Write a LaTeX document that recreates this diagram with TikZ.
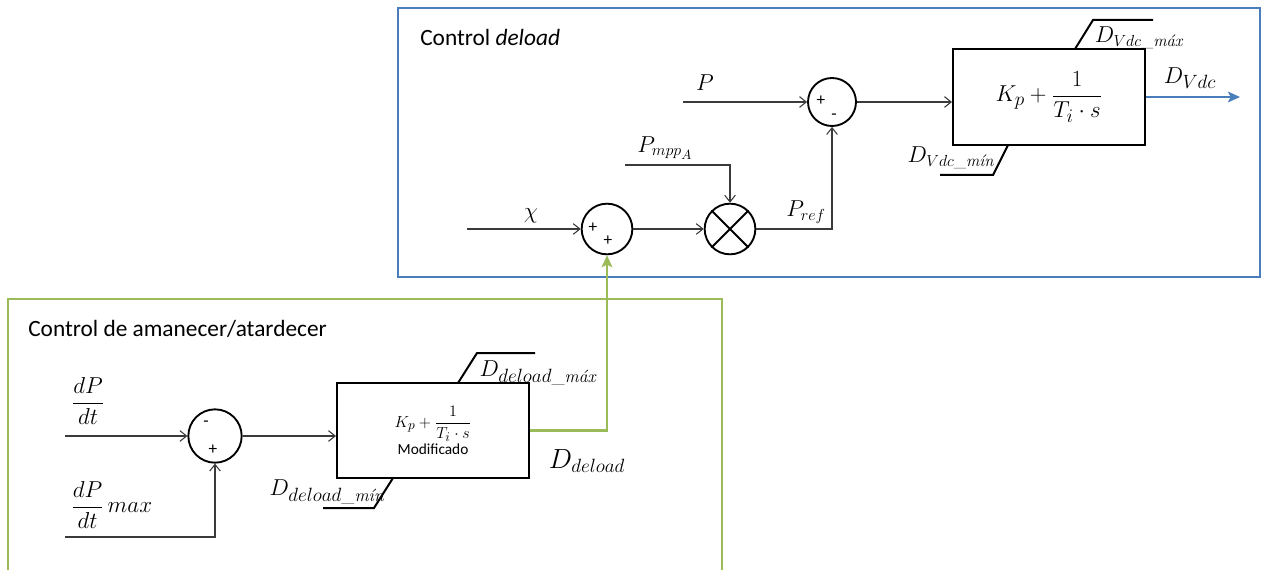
\documentclass[tikz,border=0pt]{standalone}
\usepackage{amsmath}
\usepackage[no-math]{fontspec}
\newfontfamily\calib{Carlito}
\usetikzlibrary{arrows.meta}
\DeclareMathSizes{13}{13}{10}{8}
\DeclareMathSizes{16}{16}{12.5}{10}
\DeclareMathSizes{17}{17}{13.3}{10.6}
\DeclareMathSizes{18}{18}{14}{11.2}
\DeclareMathSizes{19}{19}{14.8}{11.8}
\DeclareMathSizes{20}{20}{15.6}{12.5}
\definecolor{boxblue}{HTML}{4A7EBB}
\definecolor{boxgreen}{HTML}{9BBB59}
\definecolor{wire}{HTML}{3A3A3A}
\begin{document}
\begin{tikzpicture}[x=0.75pt,y=-0.75pt,
  conn/.style={draw=wire,line width=0.8pt,-{Straight Barb[length=5pt,width=8pt]}},
  sumnode/.style={circle,draw=black,line width=1.4pt,minimum size=38pt,inner sep=0pt},
  block/.style={rectangle,draw=black,line width=1.5pt,inner sep=0pt,minimum width=144pt,minimum height=71.5pt},
  sat/.style={draw=black,line width=1.5pt},
  lbl/.style={inner sep=0pt,font=\fontsize{16}{19}\selectfont},
  sign/.style={inner sep=0pt,font=\calib\fontsize{13}{14}\selectfont},
  title/.style={inner sep=0pt,anchor=west,font=\calib\fontsize{17.5}{20}\selectfont},
  bluearrow/.style={draw=boxblue,line width=1.8pt,-{Stealth[length=9pt,width=8pt,inset=2pt]}},
  greenarrow/.style={draw=boxgreen,line width=1.8pt,-{Stealth[length=9pt,width=8pt,inset=2pt]}},
]
\useasboundingbox (0,0) rectangle (1266,570);
% frames
\draw[boxblue,line width=1.5pt] (398,8) rectangle (1260,277);
\draw[boxgreen,line width=1.5pt] (8,299) rectangle (722,600);
\node[title] (t1) at (420,37) {Control \textit{deload}};
\node[title] (t2) at (28,329) {Control de amanecer/atardecer};

% upper part
\node[sumnode,minimum size=36pt] (s1) at (832,102) {};
\node[sign] (s1a) at (821,101) {+};
\node[sign] (s1b) at (834,117) {-};
\node[sumnode] (s2) at (607,229) {};
\node[sign] (s2a) at (593,228) {+};
\node[sign] (s2b) at (608,241) {+};
\node[sumnode] (m) at (730,229) {};
\draw[black,line width=1.4pt] (m.north east) -- (m.south west) (m.north west) -- (m.south east);

\node[block,font=\fontsize{17}{20}\selectfont] (pi1) at (1049,97) {$\displaystyle K_p+\frac{1}{T_i\cdot s}$};

\coordinate (pin) at (683,102);
\coordinate (xin) at (467,229);
\coordinate (pmpp) at (625,165);
\coordinate (out1) at (1240,97);

\draw[conn] (pin) -- (s1.west);
\draw[conn] (xin) -- (s2.west);
\draw[conn] (s2.east) -- (m.west);
\draw[conn] (pmpp) -| (m.north);
\draw[conn] (m.east) -| (s1.south);
\draw[conn] (s1.east) -- (s1.east -| pi1.west);
\draw[bluearrow] (pi1.east |- out1) -- (out1);

\node[lbl] (lP) at (705,83) {$P$};
\node[lbl] (lPmpp) at (665,148) {$P_{mpp_A}$};
\node[lbl] (lchi) at (531,216) {$\chi$};
\node[lbl] (lPref) at (806,212) {$P_{ref}$};
\node[lbl,font=\fontsize{17}{20}\selectfont] (lDvdc) at (1190,78) {$D_{Vdc}$};
\node[lbl] (lDmax1) at (1139,38) {$D_{Vdc\_\textit{máx}}$};
\node[lbl] (lDmin1) at (951,158) {$D_{Vdc\_\textit{mín}}$};

% saturation marks upper
\draw[sat] (1075,49) -- (1093,20) -- (1153,20);
\draw[sat] (1008,145) -- (993,175) -- (940,175);

% lower part
\node[sumnode,minimum size=40pt] (s3) at (215,436) {};
\node[sign] (s3a) at (206,424) {-};
\node[sign] (s3b) at (213,450) {+};
\node[block,align=center,font=\fontsize{13}{15}\selectfont] (pi2) at (433,430.5) {$K_p+\dfrac{1}{T_i\cdot s}$\\[1pt]{\calib\fontsize{11.5}{13}\selectfont Modificado}};

\coordinate (din) at (65,436);
\coordinate (dmax) at (65,537);
\draw[conn] (din) -- (s3.west);
\draw[conn] (dmax) -| (s3.south);
\draw[conn] (s3.east) -- (s3.east -| pi2.west);
\draw[greenarrow] (pi2.east) -| (s2.south);

\node[lbl,font=\fontsize{19}{22}\selectfont] (ldpdt) at (88,401) {$\dfrac{dP}{dt}$};
\node[lbl,font=\fontsize{19}{22}\selectfont,anchor=west] (ldpmax) at (71,505) {$\dfrac{dP}{dt}\,max$};
\node[lbl,font=\fontsize{17}{20}\selectfont] (lDmax2) at (538,373) {$D_{deload\_\textit{máx}}$};
\node[lbl,font=\fontsize{17}{20}\selectfont] (lDmin2) at (327,492) {$D_{deload\_\textit{mín}}$};
\node[lbl,font=\fontsize{20}{23}\selectfont] (lDdel) at (587,461) {$D_{deload}$};

\draw[sat] (458,383) -- (477,353) -- (535,353);
\draw[sat] (393,478) -- (374,508) -- (323,508);
\end{tikzpicture}
\end{document}
